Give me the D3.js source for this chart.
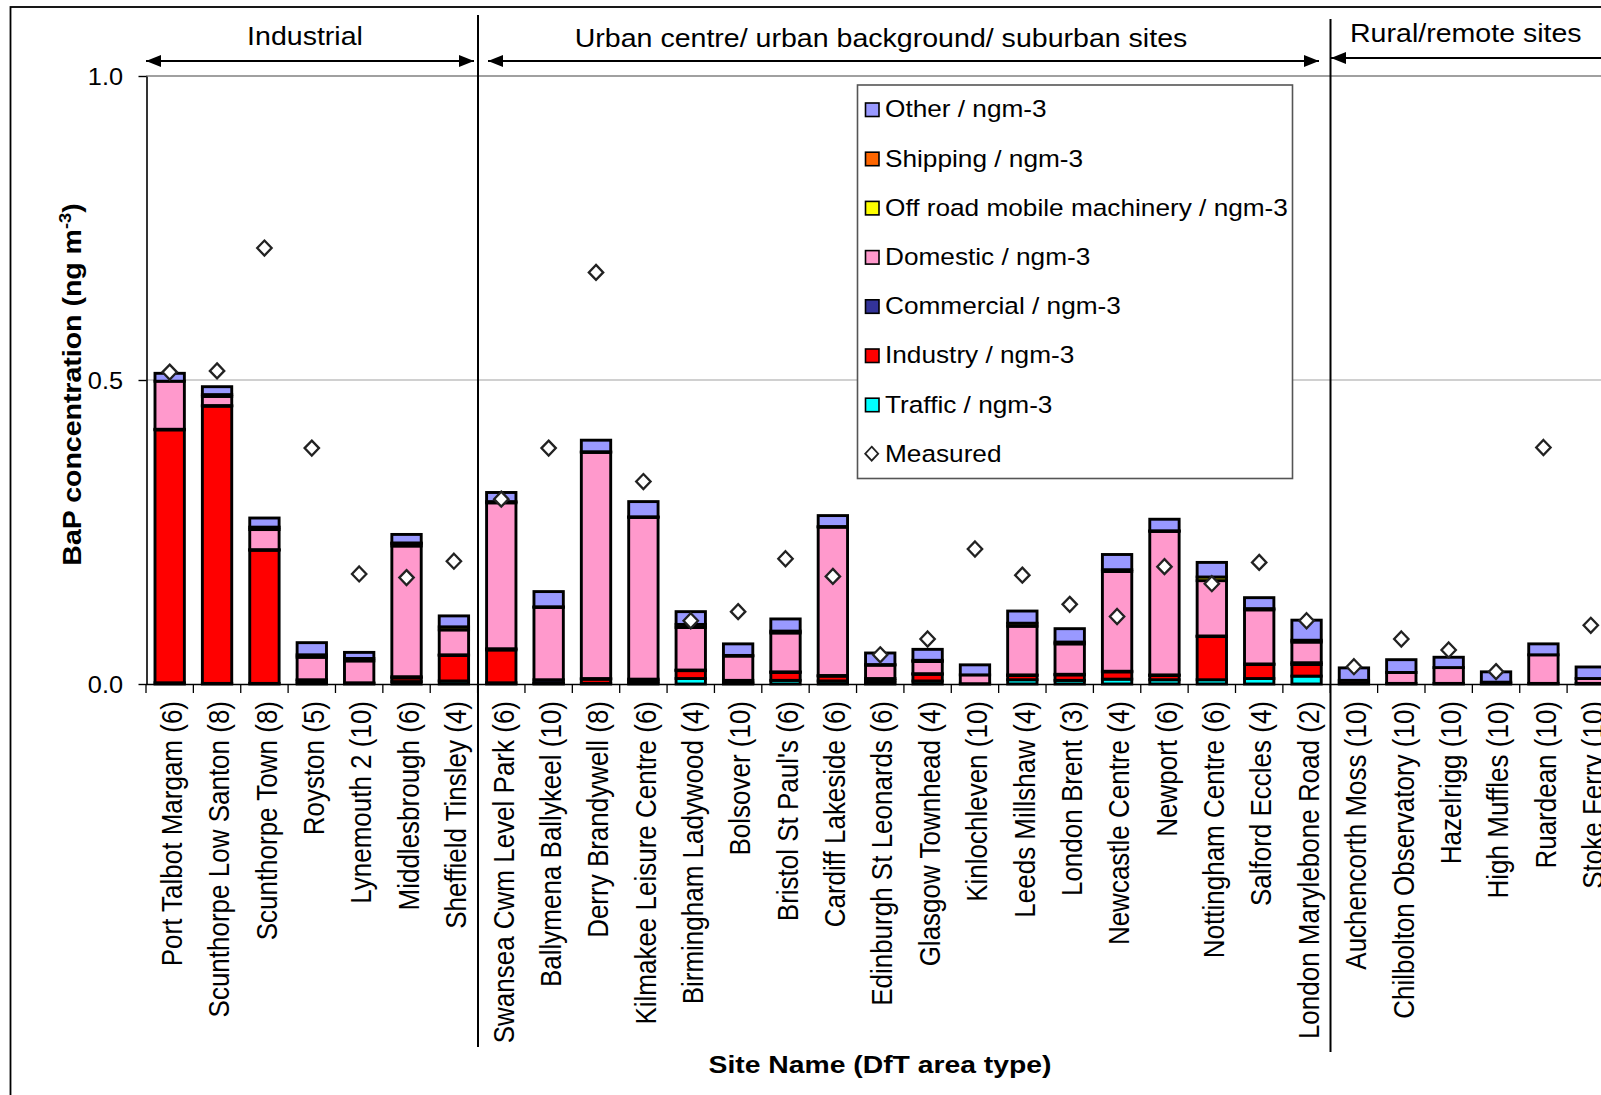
<!DOCTYPE html>
<html>
<head>
<meta charset="utf-8">
<script src="https://cdn.jsdelivr.net/npm/d3@7"></script>
<style>
  html, body { margin: 0; padding: 0; background: #fff; overflow: hidden; }
  svg { display: block; font-family: "Liberation Sans", Arial, sans-serif; }
</style>
</head>
<body>
<svg id="chart" width="1601" height="1095"></svg>
<script>
// ---------------- DATA ----------------
const sites = [
  "Port Talbot Margam (6)", "Scunthorpe Low Santon (8)", "Scunthorpe Town (8)", "Royston (5)",
  "Lynemouth 2 (10)", "Middlesbrough (6)", "Sheffield Tinsley (4)",
  "Swansea Cwm Level Park (6)", "Ballymena Ballykeel (10)", "Derry Brandywell (8)",
  "Kilmakee Leisure Centre (6)", "Birmingham Ladywood (4)", "Bolsover (10)", "Bristol St Paul's (6)",
  "Cardiff Lakeside (6)", "Edinburgh St Leonards (6)", "Glasgow Townhead (4)", "Kinlochleven (10)",
  "Leeds Millshaw (4)", "London Brent (3)", "Newcastle Centre (4)", "Newport (6)",
  "Nottingham Centre (6)", "Salford Eccles (4)", "London Marylebone Road (2)",
  "Auchencorth Moss (10)", "Chilbolton Observatory (10)", "Hazelrigg (10)", "High Muffles (10)",
  "Ruardean (10)", "Stoke Ferry (10)"
];
const traffic    = [0.002,0.001,0.001,0.001,0.000,0.004,0.005, 0.002,0.001,0.001,0.001,0.009,0.001,0.006,0.005,0.002,0.005,0.000,0.007,0.006,0.008,0.007,0.007,0.009,0.013, 0,0,0,0,0,0];
const industry   = [0.416,0.456,0.219,0.004,0.001,0.006,0.042, 0.054,0.001,0.007,0.004,0.013,0.001,0.013,0.008,0.004,0.011,0.000,0.007,0.009,0.012,0.007,0.071,0.023,0.019, 0,0,0,0,0,0];
const commercial = [0.001,0.001,0.001,0.002,0.001,0.002,0.001, 0.002,0.005,0.001,0.003,0.001,0.004,0.001,0.001,0.003,0.001,0.0005,0.001,0.001,0.001,0.001,0.001,0.001,0.003, 0.001,0.001,0.001,0.001,0.001,0.001];
const domestic   = [0.079,0.015,0.033,0.037,0.036,0.215,0.041, 0.240,0.119,0.372,0.266,0.070,0.040,0.064,0.244,0.022,0.020,0.0145,0.080,0.050,0.164,0.236,0.091,0.089,0.034, 0.005,0.018,0.026,0.002,0.047,0.008];
const offroad    = [0.000,0.003,0.004,0.004,0.004,0.004,0.005, 0.002,0.001,0.001,0.001,0.005,0.001,0.003,0.001,0.001,0.002,0.000,0.005,0.003,0.003,0.001,0.006,0.002,0.003, 0,0,0,0,0,0];
const shipping   = [0,0,0,0,0,0.001,0, 0,0,0,0,0,0,0,0,0,0,0,0,0,0,0,0,0,0, 0,0,0,0,0,0];
const other      = [0.013,0.013,0.015,0.020,0.010,0.014,0.018, 0.015,0.025,0.019,0.025,0.021,0.019,0.020,0.018,0.019,0.018,0.0165,0.020,0.022,0.025,0.019,0.024,0.018,0.033, 0.0205,0.021,0.017,0.017,0.018,0.019];
const measured   = [0.513,0.515,0.717,0.388,0.181,0.175,0.202, 0.304,0.388,0.677,0.333,0.104,0.119,0.206,0.177,0.048,0.074,0.222,0.179,0.131,0.111,0.193,0.165,0.200,0.104, 0.0285,0.074,0.056,0.0203,0.389,0.0965];

const seriesKeys   = ["traffic","industry","commercial","domestic","offroad","shipping","other"];
const seriesLabels = ["Traffic / ngm-3","Industry / ngm-3","Commercial / ngm-3","Domestic / ngm-3",
                      "Off road mobile machinery / ngm-3","Shipping / ngm-3","Other / ngm-3"];
const seriesColors = ["#00FFFF","#FF0000","#333399","#FF99CC","#FFFF00","#FF6600","#9999FF"];
const groupLabels  = ["Industrial","Urban centre/ urban background/ suburban sites","Rural/remote sites"];
const yTicks = [0, 0.5, 1.0];

// ---------------- BUILD ----------------
const seriesArrays = {traffic, industry, commercial, domestic, offroad, shipping, other};
const table = sites.map((s, i) => {
  const row = {site: s, measured: measured[i]};
  seriesKeys.forEach(k => row[k] = seriesArrays[k][i]);
  return row;
});

const svg = d3.select("#chart");
const FONT = "'Liberation Sans', Arial, sans-serif";

const step = 47.37;
const x = d3.scaleBand().domain(sites)
  .range([146, 146 + sites.length * step])
  .paddingInner(0.38).paddingOuter(0.19);
const y = d3.scaleLinear().domain([0, 1]).range([684, 76]);
const boundary = d => x(d) - (x.step() - x.bandwidth()) / 2;
const xEnd = 146 + sites.length * step + 100;

// outer frame (cropped)
svg.append("rect").attr("x", 10.5).attr("y", 7).attr("width", 3000).attr("height", 3000)
  .attr("fill", "none").attr("stroke", "#000").attr("stroke-width", 1.8);

// gridlines
svg.append("line").attr("x1", 146).attr("x2", xEnd).attr("y1", y(0.5)).attr("y2", y(0.5))
  .attr("stroke", "#c0c0c0").attr("stroke-width", 1.3);
svg.append("line").attr("x1", 146).attr("x2", xEnd).attr("y1", y(1)).attr("y2", y(1))
  .attr("stroke", "#808080").attr("stroke-width", 1.6);

// stacked bars
const stack = d3.stack().keys(seriesKeys);
const layers = stack(table);
const gBars = svg.append("g");
layers.forEach((layer, li) => {
  gBars.append("g").attr("fill", seriesColors[li])
    .selectAll("rect")
    .data(layer.filter(d => d[1] - d[0] > 0))
    .join("rect")
    .attr("x", d => x(d.data.site))
    .attr("width", x.bandwidth())
    .attr("y", d => y(d[1]))
    .attr("height", d => y(d[0]) - y(d[1]))
    .attr("stroke", "#000").attr("stroke-width", 2.9);
});

// y axis
const yAxis = svg.append("g").attr("transform", "translate(146.5,0)")
  .call(d3.axisLeft(y).tickValues(yTicks).tickFormat(d3.format(".1f")).tickSize(8).tickSizeOuter(0));
yAxis.select(".domain").attr("stroke", "#000").attr("stroke-width", 1.6);
yAxis.selectAll(".tick line").attr("stroke", "#000").attr("stroke-width", 1.4);
yAxis.selectAll(".tick text")
  .attr("x", null).attr("dy", "0.37em")
  .attr("transform", "translate(-23.5,0) scale(1.1,1)")
  .attr("text-anchor", "end")
  .attr("font-family", FONT).attr("font-size", 23).attr("fill", "#000");

// x axis baseline + boundary ticks
svg.append("line").attr("x1", 146).attr("x2", xEnd).attr("y1", 684.5).attr("y2", 684.5)
  .attr("stroke", "#000").attr("stroke-width", 1.5);
svg.append("g").selectAll("line").data(sites).join("line")
  .attr("x1", d => boundary(d)).attr("x2", d => boundary(d))
  .attr("y1", 684).attr("y2", 693).attr("stroke", "#000").attr("stroke-width", 1.3);

// category labels
svg.append("g").selectAll("text").data(sites).join("text")
  .attr("transform", d => `translate(${x(d) + x.bandwidth() / 2},701) rotate(-90) scale(1,1.12)`)
  .attr("text-anchor", "end").attr("dy", "0.42em")
  .attr("font-family", FONT).attr("font-size", 26).attr("fill", "#000")
  .text(d => d);

// measured diamonds
const diamond = "M0,-7.5L7.2,0L0,7.5L-7.2,0Z";
svg.append("g").selectAll("path").data(table).join("path")
  .attr("d", diamond)
  .attr("transform", d => `translate(${x(d.site) + x.bandwidth() / 2},${y(d.measured)})`)
  .attr("fill", "#fff").attr("stroke", "#222").attr("stroke-width", 2.3);

// group separators
svg.append("line").attr("x1", 478).attr("x2", 478).attr("y1", 15).attr("y2", 1047)
  .attr("stroke", "#000").attr("stroke-width", 2);
svg.append("line").attr("x1", 1330.5).attr("x2", 1330.5).attr("y1", 19).attr("y2", 1052)
  .attr("stroke", "#000").attr("stroke-width", 2);

// group arrows
function arrow(x1, x2, yy, headLeft, headRight) {
  svg.append("line").attr("x1", x1).attr("x2", x2).attr("y1", yy).attr("y2", yy)
    .attr("stroke", "#000").attr("stroke-width", 2);
  if (headLeft) svg.append("path")
    .attr("d", `M${x1},${yy}L${x1 + 15},${yy - 6}L${x1 + 15},${yy + 6}Z`).attr("fill", "#000");
  if (headRight) svg.append("path")
    .attr("d", `M${x2},${yy}L${x2 - 15},${yy - 6}L${x2 - 15},${yy + 6}Z`).attr("fill", "#000");
}
arrow(146, 474, 61, true, true);
arrow(488, 1319, 61, true, true);
arrow(1331, 1625, 58, true, true);

function hText(txt, cx, by, size, sx, anchor, weight) {
  return svg.append("text")
    .attr("transform", `translate(${cx},${by}) scale(${sx},1)`)
    .attr("text-anchor", anchor).attr("font-family", FONT)
    .attr("font-size", size).attr("font-weight", weight || "normal").attr("fill", "#000")
    .text(txt);
}
hText(groupLabels[0], 305, 45, 25.5, 1.12, "middle");
hText(groupLabels[1], 881, 47, 25.5, 1.12, "middle");
hText(groupLabels[2], 1350, 42, 25.5, 1.12, "start");

// axis titles
hText("Site Name (DfT area type)", 880, 1073, 24, 1.18, "middle", "bold");
const yt = svg.append("text")
  .attr("transform", "translate(81,384.5) rotate(-90) scale(1.14,1)")
  .attr("text-anchor", "middle").attr("font-family", FONT)
  .attr("font-size", 25).attr("font-weight", "bold").attr("fill", "#000");
yt.append("tspan").text("BaP concentration (ng m");
yt.append("tspan").attr("font-size", 16).attr("dy", -10).text("-3");
yt.append("tspan").attr("dy", 10).text(")");

// legend
const lg = svg.append("g");
lg.append("rect").attr("x", 857.5).attr("y", 85).attr("width", 435).attr("height", 393.5)
  .attr("fill", "#fff").attr("stroke", "#555").attr("stroke-width", 1.6);
const legendItems = seriesKeys.map((k, i) => ({label: seriesLabels[i], color: seriesColors[i]})).reverse();
legendItems.forEach((it, i) => {
  const by = 117.3 + i * 49.2;
  lg.append("rect").attr("x", 865.5).attr("y", by - 14.3).attr("width", 13.5).attr("height", 13.5)
    .attr("fill", it.color).attr("stroke", "#000").attr("stroke-width", 1.6);
  lg.append("text").attr("transform", `translate(885,${by}) scale(1.07,1)`)
    .attr("font-family", FONT).attr("font-size", 24.5).attr("fill", "#000").text(it.label);
});
{
  const by = 117.3 + 7 * 49.2;
  lg.append("path").attr("d", "M0,-7L6.5,0L0,7L-6.5,0Z")
    .attr("transform", `translate(871.7,${by - 8})`)
    .attr("fill", "#fff").attr("stroke", "#222").attr("stroke-width", 1.8);
  lg.append("text").attr("transform", `translate(885,${by}) scale(1.07,1)`)
    .attr("font-family", FONT).attr("font-size", 24.5).attr("fill", "#000").text("Measured");
}
</script>
</body>
</html>
